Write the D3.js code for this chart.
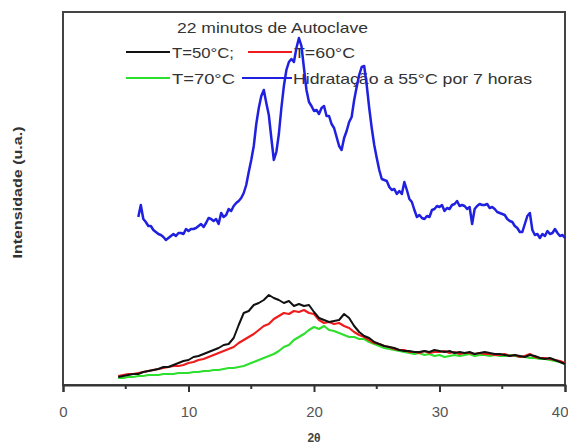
<!DOCTYPE html>
<html>
<head>
<meta charset="utf-8">
<script src="https://cdn.jsdelivr.net/npm/d3@7/dist/d3.min.js"></script>
<style>
  html, body { margin: 0; padding: 0; background: #fff; }
  svg { display: block; }
  text { font-family: "Liberation Sans", Arial, sans-serif; }
</style>
</head>
<body>
<svg id="chart" width="568" height="447"></svg>
<script>
// XRD patterns, intensity in arbitrary units
// Hydrated sample: 2θ grid 6.0 → 40.0, step 0.2
const hydStart = 6.0, hydStep = 0.2;
const hidratacao = [
  168,
  180,166,163,159,159,155,153,151,150,148,
  145,147,149,151,149,152,152,151,156,154,
  156,156,157,159,161,158,162,167,166,164,
  166,161,172,168,170,176,174,179,182,184,
  187,192,200,213,225,239,261,277,289,295,
  282,270,247,225,233,251,277,299,315,323,
  326,323,337,347,339,317,295,283,279,274,
  275,271,277,279,269,269,261,257,248,239,
  235,247,254,263,268,285,298,310,318,319,
  300,277,257,240,227,215,206,205,204,198,
  195,196,191,194,191,203,195,186,183,175,
  168,170,167,166,169,168,175,176,179,178,
  180,174,177,176,180,181,184,179,180,179,
  176,178,161,176,179,181,180,180,181,177,
  178,176,173,172,171,170,166,164,163,159,
  157,153,153,161,169,172,155,150,151,147,
  151,149,154,151,152,156,152,149,150,147
];

// Autoclaved samples (22 min): 2θ grid 4.4 → 40.0, step 0.4
const autoStart = 4.4, autoStep = 0.4;
const t50 = [
  8,9,10,11,11,13,14,15,16,18,
  18,20,22,24,25,28,29,31,33,35,
  37,40,41,47,60,72,74,80,82,85,
  90,87,85,82,84,79,81,79,80,73,
  67,65,63,64,65,71,67,59,53,49,
  47,43,41,39,38,37,35,34,34,33,
  33,34,33,35,34,33,34,32,33,32,
  33,31,32,33,32,31,31,30,29,30,
  29,28,30,29,27,26,27,25,23,21
];
const t60 = [
  9,10,11,11,12,13,14,15,16,17,
  18,19,19,20,22,23,25,26,28,30,
  32,34,36,38,42,45,48,51,55,59,
  61,66,69,72,71,74,73,75,72,71,
  65,62,63,61,62,59,57,53,50,48,
  45,42,41,39,38,36,35,35,33,33,
  32,34,32,33,33,34,32,33,31,32,
  32,31,32,31,31,30,30,31,29,30,
  28,29,31,28,27,27,26,25,24,22
];
const t70 = [
  7,7,8,8,9,9,10,10,10,11,
  11,11,12,12,12,13,13,14,14,15,
  15,16,17,17,18,19,21,23,25,27,
  29,31,34,38,40,45,48,51,55,58,
  56,59,55,54,52,50,48,48,46,46,
  43,41,39,37,36,35,34,33,32,31,
  32,30,31,29,30,28,29,30,29,30,
  31,29,30,30,29,30,29,29,30,29,
  28,28,27,27,26,26,25,24,23,21
];

const xTicks = [0, 10, 20, 30, 40];
const xMinorTicks = [5, 15, 25, 35];
const titleText = "22 minutos de Autoclave";
const seriesNames = ["T=50°C;", "T=60°C", "T=70°C", "Hidratação a 55°C por 7 horas"];
const seriesColors = ["#111111", "#ee1c1c", "#2ee02e", "#2020e0"];

const svg = d3.select("#chart");
const margin = { left: 63, right: 3, top: 12, bottom: 62 };
const W = 568, H = 447;

const x = d3.scaleLinear().domain([0, 40]).range([margin.left, W - margin.right]);
const y = d3.scaleLinear().domain([0, 373]).range([H - margin.bottom, margin.top]);

const toPoints = (vals, start, step) => vals.map((v, i) => [start + i * step, v]);
const line = d3.line().x(d => x(d[0])).y(d => y(d[1]));

// frame
svg.append("rect")
  .attr("x", x(0)).attr("y", y(373))
  .attr("width", x(40) - x(0)).attr("height", y(0) - y(373))
  .attr("fill", "none").attr("stroke", "#444").attr("stroke-width", 2);

// legend (drawn beneath the curves)
const lg = svg.append("g").attr("font-size", 15).attr("fill", "#333");
lg.append("text").attr("x", 177).attr("y", 33).attr("textLength", 191)
  .attr("lengthAdjust", "spacingAndGlyphs").text(titleText);
const legendItems = [
  { name: seriesNames[0], color: seriesColors[0], x1: 126, x2: 170, ty: 52, tx: 172, tl: 62 },
  { name: seriesNames[1], color: seriesColors[1], x1: 248, x2: 292, ty: 52, tx: 294, tl: 61 },
  { name: seriesNames[2], color: seriesColors[2], x1: 126, x2: 170, ty: 78, tx: 172, tl: 63 },
  { name: seriesNames[3], color: seriesColors[3], x1: 242, x2: 292, ty: 78, tx: 293, tl: 239 }
];
legendItems.forEach(it => {
  lg.append("line").attr("x1", it.x1).attr("x2", it.x2).attr("y1", it.ty).attr("y2", it.ty)
    .attr("stroke", it.color).attr("stroke-width", 2);
  lg.append("text").attr("x", it.tx).attr("y", it.ty + 5.5)
    .attr("textLength", it.tl).attr("lengthAdjust", "spacingAndGlyphs").text(it.name);
});

// curves
const curves = [
  { vals: t70, start: autoStart, step: autoStep, color: seriesColors[2], w: 2.2 },
  { vals: t60, start: autoStart, step: autoStep, color: seriesColors[1], w: 2.2 },
  { vals: t50, start: autoStart, step: autoStep, color: seriesColors[0], w: 2 },
  { vals: hidratacao, start: hydStart, step: hydStep, color: seriesColors[3], w: 2.5 }
];
curves.forEach(c => {
  svg.append("path")
    .datum(toPoints(c.vals, c.start, c.step))
    .attr("d", line)
    .attr("fill", "none")
    .attr("stroke", c.color)
    .attr("stroke-width", c.w)
    .attr("stroke-linejoin", "round");
});

// bottom axis
const xAxis = d3.axisBottom(x).tickValues(xTicks).tickSize(7).tickPadding(14).tickFormat(d3.format("d"));
const gx = svg.append("g").attr("transform", `translate(0,${y(0)})`).call(xAxis);
gx.select(".domain").attr("stroke", "#333").attr("stroke-width", 2);
gx.selectAll(".tick line").attr("stroke", "#333").attr("stroke-width", 2);
gx.selectAll(".tick text").attr("font-size", 15).attr("fill", "#555")
  .attr("font-family", "Liberation Sans, Arial, sans-serif");
// last label sits against the right edge of the page
gx.selectAll(".tick text").filter(d => d === 40)
  .attr("text-anchor", "end").attr("dx", "0.2em");

svg.append("g").selectAll("line").data(xMinorTicks).join("line")
  .attr("x1", d => x(d)).attr("x2", d => x(d))
  .attr("y1", y(0)).attr("y2", y(0) + 4)
  .attr("stroke", "#333").attr("stroke-width", 2);

// axis titles
svg.append("text").attr("x", x(20)).attr("y", 442).attr("text-anchor", "middle")
  .attr("font-size", 12).attr("font-weight", "bold").attr("fill", "#444").text("2θ");
svg.append("text")
  .attr("transform", `translate(22,${(y(0) + y(373)) / 2 - 6}) rotate(-90)`)
  .attr("text-anchor", "middle").attr("font-size", 13).attr("font-weight", "bold")
  .attr("textLength", 132).attr("lengthAdjust", "spacingAndGlyphs")
  .attr("fill", "#333").text("Intensidade (u.a.)");
</script>
</body>
</html>
